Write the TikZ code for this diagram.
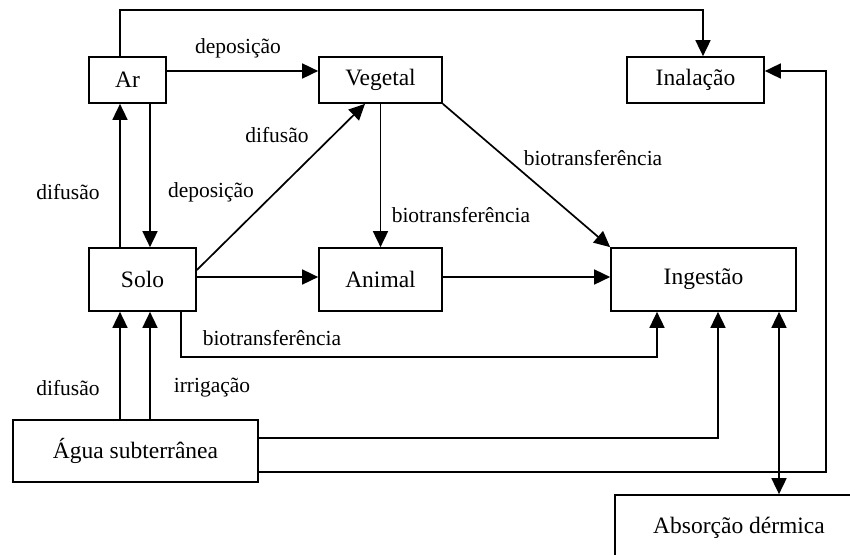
\documentclass[tikz,border=0pt]{standalone}
\usepackage{fontspec}
\setmainfont{Liberation Serif}
\usetikzlibrary{positioning}
\usetikzlibrary{arrows.meta}

\begin{document}
\begin{tikzpicture}[x=1pt, y=-1pt, line width=1.7pt, >={Triangle[length=16pt, width=15pt]},
    box/.style 2 args={draw, rectangle, minimum width=#1, minimum height=#2, inner sep=0pt, font=\fontsize{23.5}{28}\selectfont},
    lbl/.style={inner sep=0pt, font=\fontsize{21.5}{26}\selectfont}]
            \useasboundingbox (0, 0) rectangle (850, 554);

            \node[box={77pt}{46pt}] (ar) at (127.5, 80) {Ar};
            \node[box={123pt}{46pt}] (veg) at (380.5, 80) {Vegetal};
            \node[box={137pt}{46pt}] (inal) at (695.5, 80) {Inalação};
            \node[box={107pt}{63pt}] (solo) at (142.5, 279.5) {Solo};
            \node[box={123pt}{63pt}] (animal) at (380.5, 279.5) {Animal};
            \node[box={185pt}{63pt}] (ing) at (703.5, 279.5) {Ingestão};
            \node[box={245pt}{62pt}] (agua) at (135.5, 451) {Água subterrânea};
            \node[box={248pt}{65pt}] (abs) at (739, 527.5) {Absorção dérmica};

            \node[lbl] (l1) at (238, 48) {deposição};
            \node[lbl] (l2) at (277, 135) {difusão};
            \node[lbl] (l3) at (68, 192) {difusão};
            \node[lbl] (l4) at (211, 192) {deposição};
            \node[lbl] (l5) at (461, 215) {biotransferência};
            \node[lbl] (l6) at (593, 158) {biotransferência};
            \node[lbl] (l7) at (272, 338) {biotransferência};
            \node[lbl] (l8) at (68, 388) {difusão};
            \node[lbl] (l9) at (212, 388) {irrigação};

            \draw[->] (ar.north -| 120, 0) -- (120, 10) -| (inal.north -| 703, 0);
            \draw[->] (ar.east |- 0, 71) -- (veg.west |- 0, 71);
            \draw[->] (ar.south -| 150, 0) -- (solo.north -| 150, 0);
            \draw[->] (solo.north -| 120, 0) -- (ar.south -| 120, 0);
            \draw[->] (solo.east |- 0, 270) -- (veg.south -| 365, 0);
            \draw[->] (solo.east |- 0, 277) -- (animal.west |- 0, 277);
            \draw[->] (veg.south) -- (animal.north);
            \draw[->] (veg.south east) -- (ing.north west);
            \draw[->] (animal.east |- 0, 277) -- (ing.west |- 0, 277);
            \draw[->] (solo.south -| 181, 0) -- (181, 357) -| (ing.south -| 657, 0);
            \draw[->] (agua.north -| 120, 0) -- (solo.south -| 120, 0);
            \draw[->] (agua.north -| 150, 0) -- (solo.south -| 150, 0);
            \draw[->] (agua.east |- 0, 438) -| (ing.south -| 718, 0);
            \draw[->] (agua.east |- 0, 472) -| (826, 71) -- (inal.east |- 0, 71);
            \draw[<->] (ing.south -| 779, 0) -- (abs.north -| 779, 0);
        \end{tikzpicture}
\end{document}
